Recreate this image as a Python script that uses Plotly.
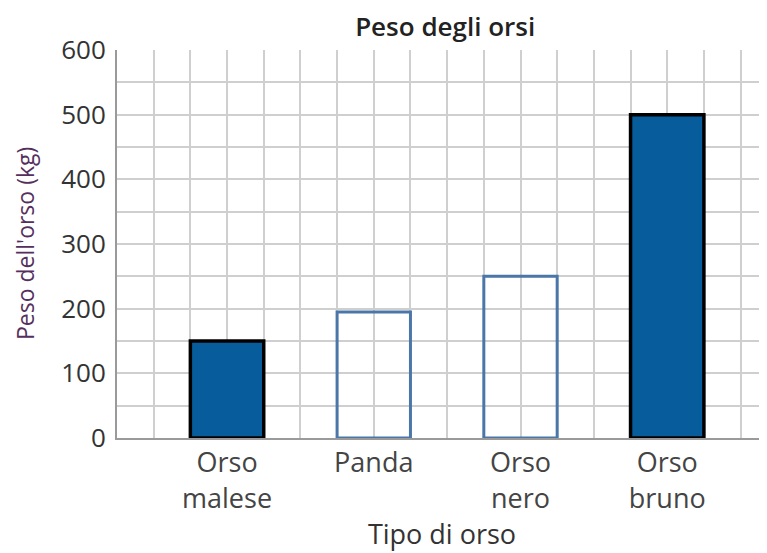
import plotly.graph_objects as go

categories = ["Orso<br>malese", "Panda", "Orso<br>nero", "Orso<br>bruno"]
weights = [150, 195, 250, 500]
filled = [True, False, False, True]
y_ticks = [0, 100, 200, 300, 400, 500, 600]

positions = list(range(1, len(categories) + 1))

fill_blue = "#075d9c"
outline_blue = "#4a76a8"

fig = go.Figure()
fig.add_trace(go.Bar(
    x=[p for p, f in zip(positions, filled) if f],
    y=[w for w, f in zip(weights, filled) if f],
    width=0.5,
    marker=dict(color=fill_blue, line=dict(color="#000000", width=3.5)),
    showlegend=False,
))
fig.add_trace(go.Bar(
    x=[p for p, f in zip(positions, filled) if not f],
    y=[w for w, f in zip(weights, filled) if not f],
    width=0.5,
    marker=dict(color="rgba(255,255,255,0)", line=dict(color=outline_blue, width=3)),
    showlegend=False,
))

grid_col = "#cfcfcf"
fig.update_layout(
    width=759, height=545,
    margin=dict(l=109, r=0, t=42, b=115, autoexpand=False),
    paper_bgcolor="white", plot_bgcolor="white",
    barmode="overlay",
    font=dict(family="Open Sans", color="#333333"),
    title=dict(text="Peso degli orsi", x=0.576, xanchor="center", y=0.966, yanchor="middle",
               font=dict(family="Open Sans", size=26, color="#222222", weight=600)),
    xaxis=dict(
        range=[0.25, 4.68],
        tickvals=positions, ticktext=categories,
        tickfont=dict(family="Open Sans", size=27, color="#444444"),
        showgrid=True, gridcolor=grid_col, gridwidth=1.5,
        minor=dict(dtick=0.25, tick0=0.25, showgrid=True, gridcolor=grid_col, gridwidth=1.5),
        showline=True, linecolor="#9a9a9a", linewidth=2,
        ticks="", zeroline=False, automargin=False,
        title=dict(text="Tipo di orso", font=dict(family="Open Sans", size=27, color="#333333"), standoff=4),
    ),
    yaxis=dict(
        range=[0, 600],
        tickvals=y_ticks,
        tickfont=dict(family="Open Sans", size=26, color="#333333"),
        showgrid=True, gridcolor=grid_col, gridwidth=1.5,
        minor=dict(dtick=50, showgrid=True, gridcolor=grid_col, gridwidth=1.5),
        showline=True, linecolor="#9a9a9a", linewidth=2,
        ticks="", zeroline=False, ticklabelstandoff=4, automargin=False,
    ),
    annotations=[dict(
        text="Peso dell'orso (kg)", textangle=-90,
        xref="paper", yref="paper", x=-0.1415, y=0.5,
        xanchor="center", yanchor="middle", showarrow=False,
        font=dict(family="Open Sans", size=23, color="#55305e"),
    )],
)

fig.write_html("out.html")
